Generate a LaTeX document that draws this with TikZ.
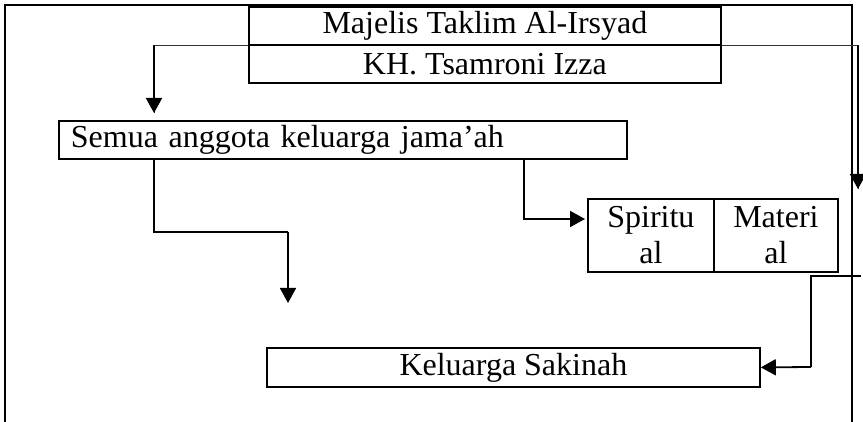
\documentclass[tikz,border=0pt]{standalone}
\usepackage{fontspec}
\setmainfont{Liberation Serif}
\usetikzlibrary{arrows.meta,positioning}
\tikzset{
  frameline/.style={black, line width=2pt},
  boxnode/.style={draw, line width=1.8pt, inner sep=0pt, anchor=north west, align=center, font=\fontsize{32}{36}\selectfont},
  conn/.style={black, line width=1.8pt, -{Triangle[length=15pt,width=16pt]}},
  thinconn/.style={black!80, line width=1pt},
  plainconn/.style={black, line width=1.8pt}
}

\begin{document}
\begin{tikzpicture}[x=1pt,y=-1pt]
  \useasboundingbox (0,0) rectangle (863,422);
  % outer frame, open at the bottom
  \draw[frameline] (5,422)--(5,5)--(852,5)--(852,422);

  % boxes
  \node[boxnode, minimum width=472pt, minimum height=38pt] (majelis) at (248,6) {Majelis Taklim Al-Irsyad};
  \node[boxnode, minimum width=472pt, minimum height=38pt] (kh) at (248,44) {KH. Tsamroni Izza};
  \node[boxnode, minimum height=38pt, text width=544pt, inner xsep=12pt, align=left] (semua) at (58,120) {Semua anggota keluarga jama’ah};
  \node[boxnode, minimum width=126pt, minimum height=73pt, text width=126pt] (spir) at (587,198) {Spiritu\\al};
  \node[boxnode, minimum width=124pt, minimum height=73pt, text width=124pt] (mat) at (713,198) {Materi\\al};
  \node[boxnode, minimum width=493pt, minimum height=39pt] (sakinah) at (266,347) {Keluarga Sakinah};

  % free ends and bends
  \coordinate (lefttip) at (154,113);
  \coordinate (righttip) at (858,189);
  \coordinate (semuaout) at (154,158);
  \coordinate (downbend) at (288,232);
  \coordinate (downtip) at (288,303);
  \coordinate (spirout) at (524,158);
  \coordinate (spirtip) at (585,219);
  \coordinate (matout) at (861,276);
  \coordinate (sakbend) at (811,367);

  % connectors
  \draw[thinconn] (majelis.south west) -| (lefttip);
  \draw[conn] (lefttip |- majelis.south west) ++(0,-0.5) -- (lefttip);
  \draw[thinconn] (majelis.south east) -| (righttip);
  \draw[conn] (righttip |- majelis.south east) ++(0,-0.5) -- (righttip);
  \draw[plainconn] (semuaout) |- (downbend);
  \draw[conn] (downbend) -- (downtip);
  \draw[conn] (spirout) |- (spirtip);
  \draw[plainconn] (matout) -| (sakbend);
  \draw[conn] (sakbend) -- (sakinah.east);
\end{tikzpicture}
\end{document}
